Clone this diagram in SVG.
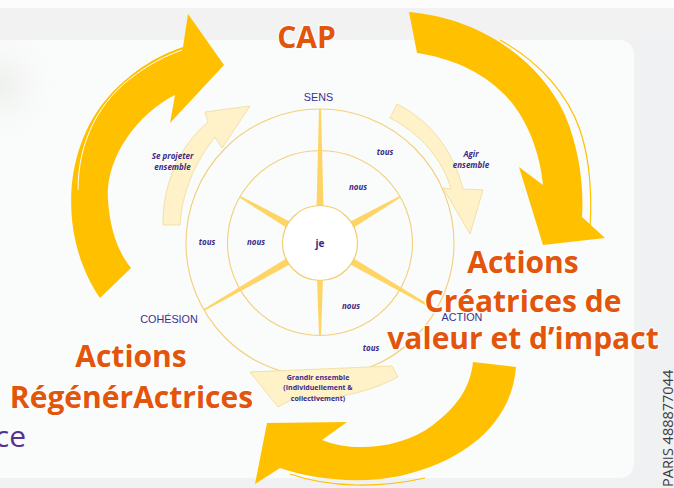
<svg xmlns="http://www.w3.org/2000/svg" width="674" height="488" viewBox="0 0 674 488">
  <defs>
    <style>
      .big { font-family: "Open Sans", "Noto Sans", sans-serif; font-weight: 700; font-size: 30px; fill: #e2550b; text-anchor: middle; stroke: #ffffff; stroke-width: 2.5; stroke-linejoin: round; paint-order: stroke; }
      .cap { font-family: "Liberation Sans", Arial, sans-serif; font-size: 10.8px; fill: #3e2f8c; text-anchor: middle; }
      .it { font-family: "Open Sans", "Noto Sans", sans-serif; font-style: italic; font-weight: 700; font-size: 8px; fill: #3b2a86; text-anchor: middle; }
      .sm { font-family: "Open Sans", "Noto Sans", sans-serif; font-weight: 700; font-size: 7px; fill: #3b2a86; text-anchor: middle; }
      .ring { fill: none; stroke: #f1d07a; stroke-width: 1.1; }
      .spoke { fill: #fed565; }
      .bigarrow { fill: #ffc000; }
      .pale { fill: #fff1c8; stroke: #f0d99a; stroke-width: 0.8; }
      .deco { fill: none; stroke: #ffc000; stroke-width: 1.2; }
      .hl { fill: none; stroke: #ffffff; stroke-width: 1; }
    </style>
    <radialGradient id="shade" cx="0" cy="85" r="60" gradientUnits="userSpaceOnUse">
      <stop offset="0" stop-color="#dfe3dc" stop-opacity="0.45"/>
      <stop offset="1" stop-color="#f4f5f4" stop-opacity="0"/>
    </radialGradient>
  </defs>

  <!-- background -->
  <rect x="0" y="0" width="674" height="488" fill="#f0f1f3"/>
  <rect x="0" y="0" width="674" height="8" fill="#fcfcfc"/>
  <rect x="0" y="8" width="674" height="32" fill="#f2f2f3"/>
  <rect x="-20" y="40" width="654" height="438" rx="14" fill="#fafbfb"/>
  <rect x="0" y="40" width="70" height="100" fill="url(#shade)"/>

  <!-- wheel -->
  <g id="wheel">
    <circle class="ring" cx="320" cy="243" r="134"/>
    <circle class="ring" cx="320" cy="243" r="92.5"/>
    <g transform="translate(320,243)">
      <polygon class="spoke" points="-3.5,-36 3.5,-36 1,-134 -1,-134" transform="rotate(0)"/>
      <polygon class="spoke" points="-3.5,-36 3.5,-36 1,-92 -1,-92" transform="rotate(60)"/>
      <polygon class="spoke" points="-3.5,-36 3.5,-36 1,-134 -1,-134" transform="rotate(120)"/>
      <polygon class="spoke" points="-3,-36 3,-36 1,-92 -1,-92" transform="rotate(180)"/>
      <polygon class="spoke" points="-3.5,-36 3.5,-36 1,-134 -1,-134" transform="rotate(240)"/>
      <polygon class="spoke" points="-3.5,-36 3.5,-36 1,-92 -1,-92" transform="rotate(300)"/>
    </g>
    <circle cx="320" cy="243" r="37.5" fill="#ffffff" stroke="#f2cd68" stroke-width="1.2"/>
  </g>

  <!-- connectors -->
  <g id="connectors">
    <!-- left big arrow -->
    <path class="bigarrow" d="M100,298 C60,240 60,150 110,95 C135,68 160,55 183,47 L188,14 L224,65 L170,123 L175,95 C135,115 105,160 108,200 C110,230 118,252 131,268 Z"/>
    <path class="hl" d="M78,190 C78,140 100,100 135,75 C150,64 165,56 182,50"/>
    <!-- top-right big arrow -->
    <path class="bigarrow" d="M409,12 C480,18 540,60 565,115 C580,150 584,190 582,217 L605,238 L543,245 L519,167 L543,185 C540,150 525,115 505,95 C480,70 450,58 417,53 Z"/>
    <path class="deco" d="M500,40 C540,62 568,95 580,130 C590,160 592,195 590,228"/>
    <!-- bottom big arrow -->
    <path class="bigarrow" d="M516,367 C512,420 470,460 400,476 C360,484 315,480 280,468 L255,484 L267,423 L347,422 L322,440 C350,452 400,450 433,425 C455,408 470,390 473,362 Z"/>
    <path class="deco" d="M290,474 C330,488 380,488 425,478"/>
    <!-- pale arrows -->
    <path class="pale" d="M163,225 C162,185 180,145 208,122 L205,112 L250,106 L222,148 L215,137 C195,162 182,192 180,225 Z"/>
    <path class="pale" d="M397,104 C425,118 452,145 463,189 L483,190 L470,234 L443,188 L451,189 C443,160 420,133 390,118 Z"/>
    <path class="pale" d="M250,372 L392,366 L398,377 C370,392 330,402 295,398 L278,407 Z"/>
  </g>

  <!-- wheel labels -->
  <g id="label-sens"><text class="cap" x="318.5" y="100.5">SENS</text></g>
  <g id="label-cohesion"><text class="cap" x="169" y="322.5">COHÉSION</text></g>
  <g id="label-action"><text class="cap" x="462" y="321">ACTION</text></g>
  <g id="label-je"><text class="sm" x="320" y="246.5" style="font-size:10px">je</text></g>
  <g id="label-tous-1"><text class="it" x="385" y="154.5">tous</text></g>
  <g id="label-nous-1"><text class="it" x="358" y="190">nous</text></g>
  <g id="label-tous-2"><text class="it" x="207" y="245">tous</text></g>
  <g id="label-nous-2"><text class="it" x="256" y="245">nous</text></g>
  <g id="label-nous-3"><text class="it" x="351" y="308.5">nous</text></g>
  <g id="label-tous-3"><text class="it" x="371" y="351">tous</text></g>
  <g id="label-se-projeter">
    <text class="it" x="172.5" y="159">Se projeter</text>
    <text class="it" x="172.5" y="169.5">ensemble</text>
  </g>
  <g id="label-agir">
    <text class="it" x="471" y="157">Agir</text>
    <text class="it" x="471" y="167.5">ensemble</text>
  </g>
  <g id="label-grandir">
    <text class="sm" x="318" y="379.5">Grandir ensemble</text>
    <text class="sm" x="318" y="390">(Individuellement &amp;</text>
    <text class="sm" x="318" y="400.5">collectivement)</text>
  </g>

  <!-- big titles -->
  <g id="cap"><text class="big" x="306.5" y="47.5">CAP</text></g>
  <g id="actions-creatrices">
    <text class="big" x="523" y="273">Actions</text>
    <text class="big" x="523" y="311.5">Créatrices de</text>
    <text class="big" x="523" y="349">valeur et d’impact</text>
  </g>
  <g id="actions-regeneractrices">
    <text class="big" x="131" y="367">Actions</text>
    <text class="big" x="131.5" y="408">RégénérActrices</text>
  </g>

  <!-- other texts -->
  <text x="26" y="446.5" text-anchor="end" font-family="'Open Sans', 'Noto Sans', sans-serif" font-size="30" fill="#57318f">ce</text>
  <text transform="translate(673,487) rotate(-90)" x="0" y="0" font-family="'Open Sans', 'Noto Sans', sans-serif" font-size="14.5" fill="#3c3c3c">PARIS 488877044</text>
</svg>
